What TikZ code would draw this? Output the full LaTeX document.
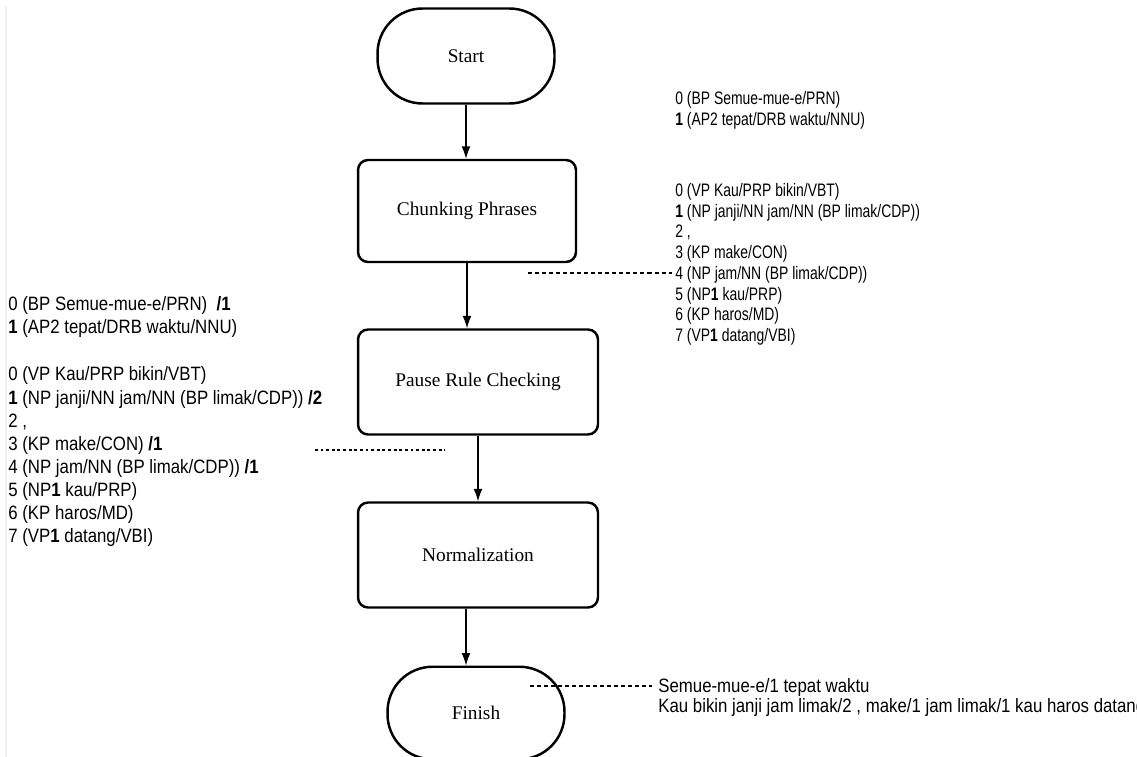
\documentclass[tikz,border=0pt]{standalone}
\usepackage{fontspec}
\setmainfont{Liberation Serif}
\newfontfamily\narrowR[FakeStretch=0.77]{Liberation Sans}
\newfontfamily\narrowL[FakeStretch=0.87]{Liberation Sans}
\usetikzlibrary{arrows.meta}
\begin{document}
\begin{tikzpicture}[x=0.02cm,y=-0.02cm,
  term/.style={draw,line width=1.4pt,rounded corners=0.9cm,minimum width=3.54cm,minimum height=1.85cm,font=\fontsize{11}{13}\selectfont},
  proc/.style={draw,line width=1.4pt,rounded corners=0.2cm,font=\fontsize{11}{13}\selectfont},
  flow/.style={-{Latex[length=7pt,width=5pt]},line width=0.7pt},
  lstR/.style={font=\narrowR\fontsize{10.3}{11.8}\selectfont,align=left,inner sep=0pt,anchor=north west},
  lstL/.style={font=\narrowL\fontsize{11}{13.1}\selectfont,align=left,inner sep=0pt,anchor=north west},
  dashline/.style={line width=0.6pt,dash pattern=on 2.3pt off 1.7pt},
  dotline/.style={line width=1.4pt,dash pattern=on 1.6pt off 1.6pt}]
\useasboundingbox[fill=white] (0,0) rectangle (1137,757);
\draw[gray!10,line width=1.5pt] (6,6) -- (6,757);

\node[term,minimum height=1.9cm] (start) at (466,56) {Start};
\node[proc,minimum width=4.36cm,minimum height=2.04cm] (chunk) at (467,211) {Chunking Phrases};
\node[proc,minimum width=4.8cm,minimum height=2.1cm] (pause) at (478,382) {Pause Rule Checking};
\node[proc,minimum width=4.8cm,minimum height=2.1cm] (norm) at (478,555) {Normalization};
\node[term] (finish) at (476,713) {Finish};

\draw[flow] (start.south) -- (start.south |- chunk.north);
\draw[flow] (chunk.south) -- (chunk.south |- pause.north);
\draw[flow] (pause.south) -- (norm.north);
\path ([xshift=-0.24cm]norm.south) coordinate (nf);
\draw[flow] (nf) -- (nf |- finish.north);

\node[lstR] (r1) at (675,91) {0 (BP Semue-mue-e/PRN)\\\textbf{1} (AP2 tepat/DRB waktu/NNU)};
\node[lstR] (r2) at (675,183) {0 (VP Kau/PRP bikin/VBT)\\
\textbf{1} (NP janji/NN jam/NN (BP limak/CDP))\\
2 ,\\
3 (KP make/CON)\\
4 (NP jam/NN (BP limak/CDP))\\
5 (NP\textbf{1} kau/PRP)\\
6 (KP haros/MD)\\
7 (VP\textbf{1} datang/VBI)};
\node[lstL] (l1) at (8,296) {0 (BP Semue-mue-e/PRN) \ \textbf{/1}\\
\textbf{1} (AP2 tepat/DRB waktu/NNU)\\[14pt]
0 (VP Kau/PRP bikin/VBT)\\
\textbf{1} (NP janji/NN jam/NN (BP limak/CDP)) \textbf{/2}\\
2 ,\\
3 (KP make/CON) \textbf{/1}\\
4 (NP jam/NN (BP limak/CDP)) \textbf{/1}\\
5 (NP\textbf{1} kau/PRP)\\
6 (KP haros/MD)\\
7 (VP\textbf{1} datang/VBI)};
\node[lstL,font=\narrowL\fontsize{11}{11.4}\selectfont] (b1) at (658,678) {Semue-mue-e/1 tepat waktu\\
Kau bikin janji jam limak/2 , make/1 jam limak/1 kau haros datang};

\coordinate (da) at (528,273);
\coordinate (db) at (672,273);
\draw[dashline] (da) -- (db);
\coordinate (dc) at (315,450);
\coordinate (dd) at (445,450);
\draw[dotline] (dc) -- (dd);
\coordinate (de) at (530,686);
\coordinate (df) at (652,686);
\draw[dashline] (de) -- (df);
\end{tikzpicture}
\end{document}
